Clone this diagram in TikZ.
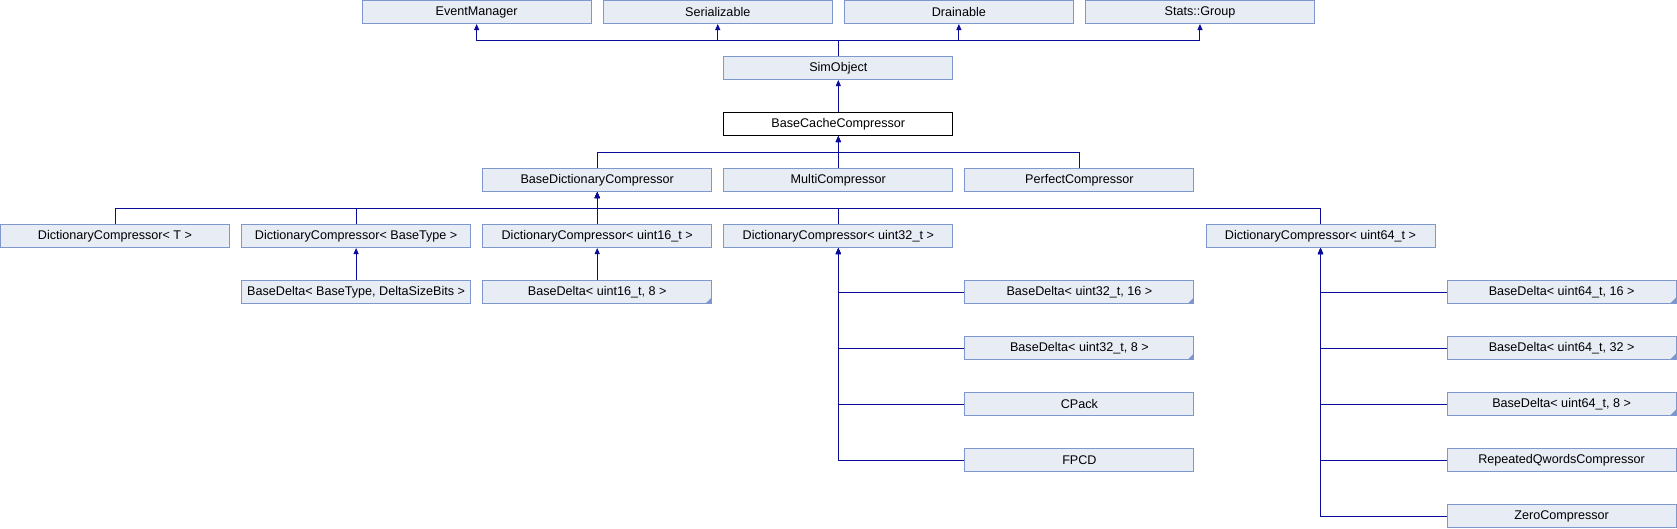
\documentclass[tikz,border=0pt]{standalone}
\usepackage{fontspec}
\setmainfont{Liberation Sans}
\usepackage{xcolor}
\usepackage{tikz}
\usetikzlibrary{arrows.meta,
positioning}
\definecolor{clsfill}{HTML}{E8ECF5}
\definecolor{clsborder}{HTML}{7E97CC}
\definecolor{inherit}{HTML}{0B0B99}

\begin{document}
\begin{tikzpicture}[
				x=1pt, y=1pt,
				node distance=32pt and 11.1pt,
				cls/.style={
					draw=clsborder,
					fill=clsfill,
					line width=1pt,
					minimum width=229pt,
					minimum height=23pt,
					inner sep=0pt,
					font=\fontsize{12.6}{14}\selectfont
				},
				thisclass/.style={cls, draw=black, fill=white},
				tmpl/.style={cls,
					path picture={\fill[clsborder] (path picture bounding box.south east) -- ++(-6pt,0) -- ++(6pt,6pt) -- cycle;}
				},
				inh/.style={draw=inherit, line width=1pt, -{Triangle[width=5pt,length=6pt]}}
				]
				\useasboundingbox (0,0) rectangle (1677,-528);
				
				\node[cls] (dictT) at (115,-236) {DictionaryCompressor< T >};
				\node[cls, right=of dictT] (dictbase) {DictionaryCompressor< BaseType >};
				\node[cls, right=of dictbase] (dict16) {DictionaryCompressor< uint16\_t >};
				\node[cls, right=of dict16] (dict32) {DictionaryCompressor< uint32\_t >};
				\node[cls, right=252.2pt of dict32] (dict64) {DictionaryCompressor< uint64\_t >};
				
				\node[cls, above=of dict16] (basedict) {BaseDictionaryCompressor};
				\node[cls, above=of dict32] (multi) {MultiCompressor};
				\node[cls, right=of multi] (perfect) {PerfectCompressor};
				\node[thisclass, above=of multi] (basecache) {BaseCacheCompressor};
				\node[cls, above=of basecache] (simobject) {SimObject};
				
				\node[cls, above=of simobject, xshift=-120.55pt] (serializable) {Serializable};
				\node[cls, left=of serializable] (eventmgr) {EventManager};
				\node[cls, right=of serializable] (drainable) {Drainable};
				\node[cls, right=of drainable] (statsgroup) {Stats::Group};
				
				\node[cls, below=of dictbase] (deltabase) {BaseDelta< BaseType, DeltaSizeBits >};
				\node[tmpl, below=of dict16] (delta16) {BaseDelta< uint16\_t, 8 >};
				\node[tmpl, right=252.2pt of delta16] (delta32x16) {BaseDelta< uint32\_t, 16 >};
				\node[tmpl, below=of delta32x16] (delta32x8) {BaseDelta< uint32\_t, 8 >};
				\node[cls, below=of delta32x8] (cpack) {CPack};
				\node[cls, below=of cpack] (fpcd) {FPCD};
				
				\node[tmpl, right=252.2pt of delta32x16] (delta64x16) {BaseDelta< uint64\_t, 16 >};
				\node[tmpl, below=of delta64x16] (delta64x32) {BaseDelta< uint64\_t, 32 >};
				\node[tmpl, below=of delta64x32] (delta64x8) {BaseDelta< uint64\_t, 8 >};
				\node[cls, below=of delta64x8] (repeated) {RepeatedQwordsCompressor};
				\node[cls, below=of repeated] (zero) {ZeroCompressor};
				
				\foreach \parent in {eventmgr,serializable,drainable,statsgroup}
					\draw[inh] (simobject.north) -- ++(0,16) -| (\parent.south);
				\draw[inh] (basecache.north) -- (simobject.south);
				\foreach \child in {basedict,multi,perfect}
					\draw[inh] (\child.north) -- ++(0,16) -| (basecache.south);
				\foreach \child in {dictT,dictbase,dict16,dict32,dict64}
					\draw[inh] (\child.north) -- ++(0,16) -| (basedict.south);
				\draw[inh] (deltabase.north) -- (dictbase.south);
				\draw[inh] (delta16.north) -- (dict16.south);
				\foreach \child in {delta32x16,delta32x8,cpack,fpcd}
					\draw[inh] (\child.west) -| (dict32.south);
				\foreach \child in {delta64x16,delta64x32,delta64x8,repeated,zero}
					\draw[inh] (\child.west) -| (dict64.south);
			\end{tikzpicture}
\end{document}
